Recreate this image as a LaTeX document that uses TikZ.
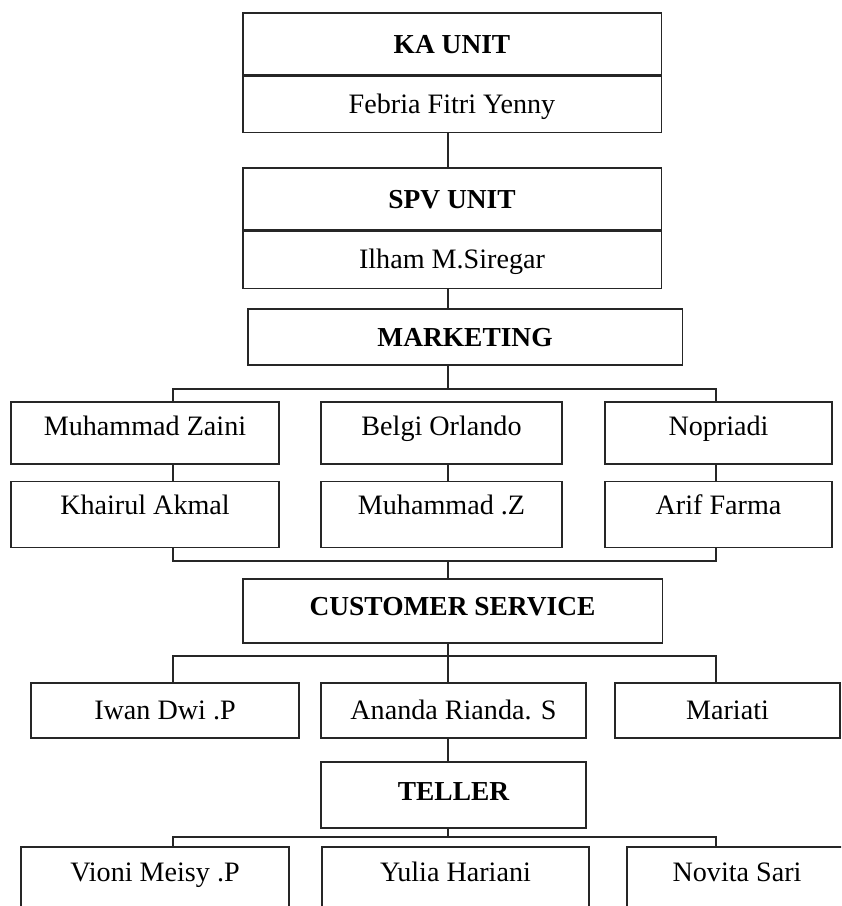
\documentclass[tikz,border=0pt]{standalone}
\usepackage{fontspec}
\setmainfont{Liberation Serif}
\usetikzlibrary{positioning}

\begin{document}
\begin{tikzpicture}[x=0.025cm,y=-0.025cm,line width=0.8pt,draw=black!85,
  box/.style={draw,inner sep=0pt,text height=13pt,text depth=0pt,font=\fontsize{20}{23}\selectfont},
  head/.style={box,font=\fontsize{19.5}{22}\selectfont\bfseries},
  lift/.style={text depth=#1}]

\clip(0,0)rectangle(841,906);

\coordinate(spine)at(448,0);
\coordinate(L)at(173,0);
\coordinate(R)at(716,0);
\coordinate(mbus)at(448,389);
\coordinate(cbus)at(448,561);
\coordinate(sbus)at(448,656);
\coordinate(tbus)at(448,837);

%% top of the chart
\node[head,minimum width=10.45cm,minimum height=1.55cm](kahead)at(452,44){KA UNIT};
\node[box,minimum width=10.45cm,minimum height=1.4cm,below=0pt of kahead](kaname){Febria Fitri Yenny};
\node[head,minimum width=10.45cm,minimum height=1.55cm](spvhead)at(452,199){SPV UNIT};
\node[box,minimum width=10.45cm,minimum height=1.425cm,below=0pt of spvhead](spvname){Ilham M.Siregar};
\node[head,minimum width=10.85cm,minimum height=1.4cm](mkt)at(465,337){MARKETING};

%% marketing staff
\node[box,minimum width=6.7cm,minimum height=1.55cm,lift=9.2pt](mz)at(145,433){Muhammad Zaini};
\node[box,minimum width=6.025cm,minimum height=1.55cm,lift=9.2pt](belgi)at(441.5,433){Belgi Orlando};
\node[box,minimum width=5.675cm,minimum height=1.55cm,lift=9.2pt](nop)at(718.5,433){Nopriadi};
\node[box,minimum width=6.7cm,minimum height=1.65cm,lift=12.8pt,below=0.4cm of mz](khairul){Khairul Akmal};
\node[box,minimum width=6.025cm,minimum height=1.65cm,lift=12.8pt,below=0.4cm of belgi](muhz){Muhammad .Z};
\node[box,minimum width=5.675cm,minimum height=1.65cm,lift=12.8pt,below=0.4cm of nop](arif){Arif Farma};

%% customer service
\node[head,minimum width=10.475cm,minimum height=1.6cm,lift=7pt](cs)at(452.5,611){CUSTOMER SERVICE};
\node[box,minimum width=6.7cm,minimum height=1.375cm](iwan)at(165,710.5){Iwan Dwi .P};
\node[box,minimum width=6.625cm,minimum height=1.375cm](ananda)at(453.5,710.5){Ananda Rianda. S};
\node[box,minimum width=5.625cm,minimum height=1.375cm](mariati)at(727.5,710.5){Mariati};

%% teller
\node[head,minimum width=6.625cm,minimum height=1.65cm,lift=5.7pt](teller)at(453.5,795){TELLER};
\node[box,minimum width=6.7cm,minimum height=1.65cm,lift=11.4pt](vioni)at(155,880){Vioni Meisy .P};
\node[box,minimum width=6.675cm,minimum height=1.65cm,lift=11.4pt](yulia)at(455.5,880){Yulia Hariani};
\node[box,minimum width=5.5cm,minimum height=1.65cm,lift=11.4pt](novita)at(737,880){Novita Sari};

%% connectors
\draw(kaname.south-|spine)--(spvhead.north-|spine);
\draw(spvname.south-|spine)--(mkt.north-|spine);
\draw(mkt.south-|spine)--(mbus);
\draw(mz.north-|L)|-(mbus)-|(nop.north-|R);
\draw(mz.south-|L)--(khairul.north-|L);
\draw(belgi.south-|spine)--(muhz.north-|spine);
\draw(nop.south-|R)--(arif.north-|R);
\draw(khairul.south-|L)|-(cbus)-|(arif.south-|R);
\draw(cbus)--(cs.north-|spine);
\draw(iwan.north-|L)|-(sbus)-|(mariati.north-|R);
\draw(cs.south-|spine)--(ananda.north-|spine);
\draw(ananda.south-|spine)--(teller.north-|spine);
\draw(vioni.north-|L)|-(tbus)-|(novita.north-|R);
\draw(teller.south-|spine)--(tbus);
\end{tikzpicture}
\end{document}
